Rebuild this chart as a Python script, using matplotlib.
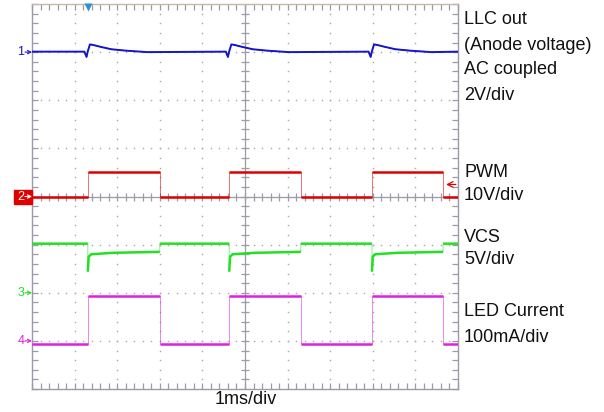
import numpy as np
import matplotlib.pyplot as plt
from matplotlib.patches import Rectangle

plt.rcParams['font.family'] = ['Liberation Sans', 'DejaVu Sans']

W, H = 604, 412

# screen is 10 x 8 divisions, 1 ms/div; values below are in divisions
rise_t = [1.31, 4.63, 7.98]     # PWM rising edges
fall_t = [3.00, 6.31, 9.65]     # PWM falling edges

ch1_level = 3.01
ch2_low, ch2_high = -0.02, 0.50
ch3_high = -0.98
ch4_low, ch4_high = -3.06, -2.06

# LLC out ripple around each rising edge (time after edge, level)
ch1_dt = [-0.08, -0.03, 0.00, 0.05, 0.12, 0.30, 0.55, 0.90, 1.40]
ch1_v = [3.01, 2.90, 3.02, 3.16, 3.15, 3.11, 3.06, 3.03, 3.00]

# VCS dip after each rising edge (time after edge, level)
ch3_dt = [0.00, 0.00, 0.02, 0.08, 0.60]
ch3_v = [-0.98, -1.56, -1.25, -1.20, -1.17]
ch3_end = -1.15

ch_ground = [3.0, 0.0, -2.0, -3.0]
trig_level = 0.25

blue = '#1616c8'
red = '#e00000'
green = '#22e022'
magenta = '#e020e0'
gridc = '#9a9aa8'


def square(low, high):
    t, v = [0.0], [low]
    for r, f in zip(rise_t, fall_t):
        t += [r, r, f, f]
        v += [low, high, high, low]
    t.append(10.0)
    v.append(low)
    return t, v


def ch1_trace():
    t, v = [0.0], [ch1_level]
    for r in rise_t:
        t += [r + d for d in ch1_dt]
        v += ch1_v
    t.append(10.0)
    v.append(ch1_level)
    return t, v


def ch3_trace():
    t, v = [0.0], [ch3_high]
    for r, f in zip(rise_t, fall_t):
        t += [r + d for d in ch3_dt] + [f, f]
        v += ch3_v + [ch3_end, ch3_high]
    t.append(10.0)
    v.append(ch3_high)
    return t, v


def draw(ax, t, v, color, lw):
    # faint edges, thick flat parts
    ax.plot(t, v, color=color, lw=0.7, alpha=0.55, zorder=5)
    tt, vv = [t[0]], [v[0]]
    for i in range(1, len(t)):
        if t[i] == t[i - 1]:
            tt.append(np.nan)
            vv.append(np.nan)
        tt.append(t[i])
        vv.append(v[i])
    ax.plot(tt, vv, color=color, lw=lw, zorder=6, solid_capstyle='butt')


fig = plt.figure(figsize=(W / 100, H / 100), dpi=100)
ax = fig.add_axes([32 / W, 23 / H, 426 / W, 385 / H])
ax.set_xlim(0, 10)
ax.set_ylim(-4, 4)

# dotted graticule
steps_x = np.arange(0, 10.01, 0.2)
steps_y = np.arange(-4, 4.01, 0.2)
for gx in range(1, 10):
    if gx != 5:
        ax.plot(np.full_like(steps_y, gx), steps_y, ls='none', marker='s', ms=1.0,
                mec='none', mfc='#a8a8a8', zorder=1)
for gy in range(-3, 4):
    if gy != 0:
        ax.plot(steps_x, np.full_like(steps_x, gy), ls='none', marker='s', ms=1.0,
                mec='none', mfc='#a8a8a8', zorder=1)

# centre cross with ticks
ax.axhline(0, color=gridc, lw=0.9, zorder=2)
ax.axvline(5, color=gridc, lw=0.9, zorder=2)
ax.plot(steps_x, np.zeros_like(steps_x), ls='none', marker='|', ms=6, mew=0.9, color=gridc, zorder=2)
ax.plot(np.full_like(steps_y, 5), steps_y, ls='none', marker='_', ms=6, mew=0.9, color=gridc, zorder=2)

ax.set_xticks(steps_x)
ax.set_yticks(steps_y)
ax.tick_params(direction='in', length=4.5, width=0.9, color=gridc, top=True, right=True,
               labelbottom=False, labelleft=False)
for s in ax.spines.values():
    s.set_color(gridc)
    s.set_linewidth(1.0)
ax.spines['top'].set_color('#c8b8a4')

# traces
t, v = ch1_trace()
draw(ax, t, v, blue, 1.4)
t, v = square(ch2_low, ch2_high)
draw(ax, t, v, red, 1.8)
t, v = ch3_trace()
draw(ax, t, v, green, 1.8)
t, v = square(ch4_low, ch4_high)
draw(ax, t, v, magenta, 1.8)

# trigger position and level
ax.plot([rise_t[0]], [3.93], marker='v', ms=5.5, color='#2a90d8', mec='none', clip_on=False, zorder=8)
ax.annotate('', xy=(9.72, trig_level), xytext=(9.95, trig_level),
            arrowprops=dict(arrowstyle='->', color=red, lw=0.9, shrinkA=0, shrinkB=0), zorder=8)

# channel ground markers
ytr = ax.get_yaxis_transform()
for i, (g, c) in enumerate(zip(ch_ground, [blue, red, green, magenta])):
    tc, ac = c, c
    if i == 1:
        ax.add_patch(Rectangle((14 / W, 1 - 204 / H), 18 / W, 14 / H, transform=fig.transFigure,
                               color=red, zorder=9, clip_on=False))
        tc, ac = 'white', 'white'
    ax.text(-11 / 426, g, str(i + 1), transform=ytr, color=tc, fontsize=9,
            ha='center', va='center', clip_on=False, zorder=10)
    ax.annotate('', xy=(0.0, g), xytext=(-7 / 426, g), xycoords=ytr,
                arrowprops=dict(arrowstyle='->', color=ac, lw=0.8, shrinkA=0, shrinkB=0,
                                mutation_scale=6), annotation_clip=False, zorder=10)

# labels
labels = [('LLC out', 20), ('(Anode voltage)', 45), ('AC coupled', 70), ('2V/div', 95),
          ('PWM', 172), ('10V/div', 196), ('VCS', 237), ('5V/div', 260),
          ('LED Current', 312), ('100mA/div', 337)]
for s, y in labels:
    fig.text(464 / W, 1 - y / H, s, fontsize=13, va='center', ha='left', color='#111111')
fig.text(246 / W, 1 - 400 / H, '1ms/div', fontsize=13, va='center', ha='center', color='#111111')

fig.savefig('out.png', dpi=100)
